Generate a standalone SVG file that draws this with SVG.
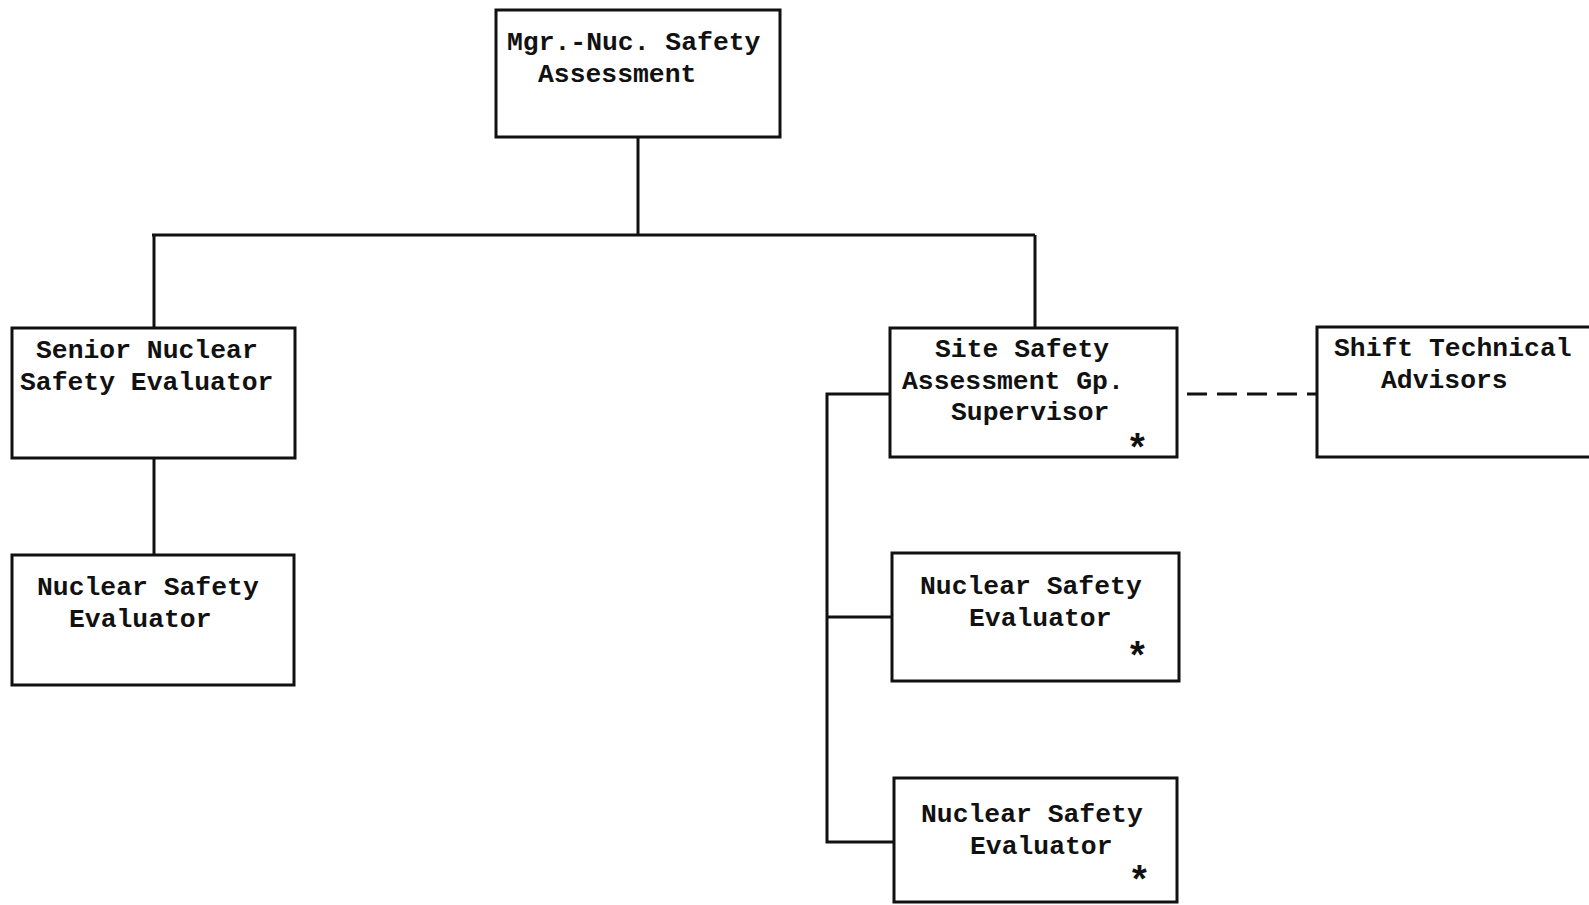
<svg xmlns="http://www.w3.org/2000/svg" width="1589" height="905" viewBox="0 0 1589 905">
<style>
.box{fill:#fff;stroke:#111;stroke-width:3}
.ln{fill:none;stroke:#111;stroke-width:3}
.dash{fill:none;stroke:#111;stroke-width:3;stroke-dasharray:20 10}
text{font-family:"Liberation Mono","Courier New",monospace;font-weight:bold;font-size:26.4px;fill:#111}
text.ast{font-size:38px}
</style>
<rect width="1589" height="905" fill="#fff"/>
<g id="connectors">
<path class="ln" d="M638 137V235M152 235H1035M154 235V328M1035 235V328M154 458V555"/>
<path class="ln" d="M890 394H827V842H894M827 617H892"/>
<path class="dash" d="M1187 394H1317"/>
</g>
<g id="mgr">
<rect class="box" x="496" y="10" width="284" height="127"/>
<text x="507" y="50">Mgr.-Nuc. Safety</text>
<text x="538" y="82">Assessment</text>
</g>
<g id="senior">
<rect class="box" x="12" y="328" width="283" height="130"/>
<text x="36" y="358">Senior Nuclear</text>
<text x="20" y="390">Safety Evaluator</text>
</g>
<g id="nse-left">
<rect class="box" x="12" y="555" width="282" height="130"/>
<text x="37" y="595">Nuclear Safety</text>
<text x="69" y="627">Evaluator</text>
</g>
<g id="site">
<rect class="box" x="890" y="328" width="287" height="129"/>
<text x="935" y="357">Site Safety</text>
<text x="902" y="389">Assessment Gp.</text>
<text x="951" y="420">Supervisor</text>
<text class="ast" x="1126" y="461">*</text>
</g>
<g id="shift">
<rect class="box" x="1317" y="327" width="290" height="130"/>
<text x="1334" y="356">Shift Technical</text>
<text x="1381" y="388">Advisors</text>
</g>
<g id="nse-1">
<rect class="box" x="892" y="553" width="287" height="128"/>
<text x="920" y="594">Nuclear Safety</text>
<text x="969" y="626">Evaluator</text>
<text class="ast" x="1126" y="669">*</text>
</g>
<g id="nse-2">
<rect class="box" x="894" y="778" width="283" height="124"/>
<text x="921" y="822">Nuclear Safety</text>
<text x="970" y="854">Evaluator</text>
<text class="ast" x="1128" y="893">*</text>
</g>
</svg>
